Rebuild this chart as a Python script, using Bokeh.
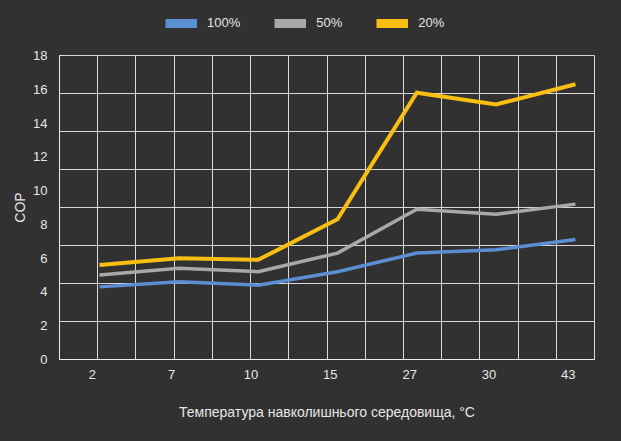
import numpy as np
from bokeh.plotting import figure
from bokeh.layouts import column
from bokeh.models import (Range1d, FixedTicker, Legend, LegendItem, ColumnDataSource)
from bokeh.embed import file_html
from bokeh.resources import INLINE

# ---- data ----
categories = ["2", "7", "10", "15", "27", "30", "43"]
cop_100 = [4.3, 4.6, 4.4, 5.2, 6.3, 6.5, 7.1]
cop_50 = [5.0, 5.4, 5.2, 6.3, 8.9, 8.6, 9.2]
cop_20 = [5.6, 6.0, 5.9, 8.3, 15.8, 15.1, 16.3]
series_names = ["100%", "50%", "20%"]
y_ticks = [0, 2, 4, 6, 8, 10, 12, 14, 16, 18]

BG = "#323132"
FG = "#e6e6e6"
GRID = "#d8d8d8"
colors = ["#5b8ed2", "#a8a8a8", "#f8bf12"]
widths = [3.5, 3.5, 4]
FONT = "Liberation Sans"

xs = list(range(len(categories)))
x_start, x_end = -0.504, len(categories) - 1 + 0.24
series = [cop_100, cop_50, cop_20]
label_shift = 0.09  # the reference's tick labels sit slightly left of the points
tick_pos = [round(i - label_shift, 2) for i in xs]

# ---- main chart ----
p = figure(width=621, height=401, output_backend="svg", toolbar_location=None,
           x_range=Range1d(x_start, x_end), y_range=Range1d(0, 18),
           min_border_left=59, min_border_right=27, min_border_top=15,
           min_border_bottom=82)
p.background_fill_color = BG
p.border_fill_color = BG
p.outline_line_color = GRID
p.outline_line_width = 1

p.xgrid.ticker = FixedTicker(ticks=list(np.linspace(x_start, x_end, 15)))
p.ygrid.ticker = FixedTicker(ticks=list(np.linspace(0, 18, 9)))
for g in (p.xgrid, p.ygrid):
    g.grid_line_color = GRID
    g.grid_line_width = 1

p.xaxis.ticker = FixedTicker(ticks=tick_pos)
p.xaxis.major_label_overrides = {t: c for t, c in zip(tick_pos, categories)}
p.yaxis.ticker = FixedTicker(ticks=y_ticks)
for ax in (p.xaxis[0], p.yaxis[0]):
    ax.major_tick_line_color = None
    ax.minor_tick_line_color = None
    ax.axis_line_color = "#eeeeee"
    ax.major_label_text_color = FG
    ax.major_label_text_font = FONT
    ax.major_label_text_font_size = "13px"
    ax.axis_label_text_color = FG
    ax.axis_label_text_font = FONT
    ax.axis_label_text_font_style = "normal"
p.xaxis.axis_label = "Температура навколишнього середовища, °C"
p.xaxis.axis_label_text_font_size = "14px"
p.xaxis.major_label_standoff = 4
p.xaxis.axis_label_standoff = 22
p.yaxis.axis_label = "COP"
p.yaxis.axis_label_text_font_size = "14px"
p.yaxis.major_label_standoff = 6
p.yaxis.axis_label_standoff = 2

for vals, c, w in zip(series, colors, widths):
    src = ColumnDataSource(dict(x=xs, y=vals))
    p.line("x", "y", source=src, line_color=c, line_width=w, line_join="miter")

# ---- legend strip (its ranges keep the swatch renderers out of view) ----
lg = figure(width=621, height=40, output_backend="svg", toolbar_location=None,
            x_range=Range1d(100, 101), y_range=Range1d(100, 101),
            x_axis_location=None, y_axis_location=None,
            min_border_left=0, min_border_right=0, min_border_top=0,
            min_border_bottom=0)
lg.background_fill_color = BG
lg.border_fill_color = BG
lg.outline_line_color = None
lg.grid.visible = False
items = []
for name, vals, c in zip(series_names, series, colors):
    src = ColumnDataSource(dict(x=xs, y=vals))
    sw = lg.line("x", "y", source=src, line_color=c, line_width=9, line_cap="butt")
    items.append(LegendItem(label=name, renderers=[sw]))
legend = Legend(items=items, orientation="horizontal", location=(106, 10),
                background_fill_alpha=0, border_line_color=None,
                padding=0, margin=0, spacing=34, glyph_width=32, glyph_height=10,
                label_height=10, label_standoff=10,
                label_text_color=FG, label_text_font=FONT,
                label_text_font_size="13px")
lg.add_layout(legend)

layout = column(lg, p, spacing=0)
html = file_html(layout, INLINE)
html = html.replace("</head>", "<style>body{background:%s;}</style></head>" % BG, 1)
open("out.html", "w").write(html)
